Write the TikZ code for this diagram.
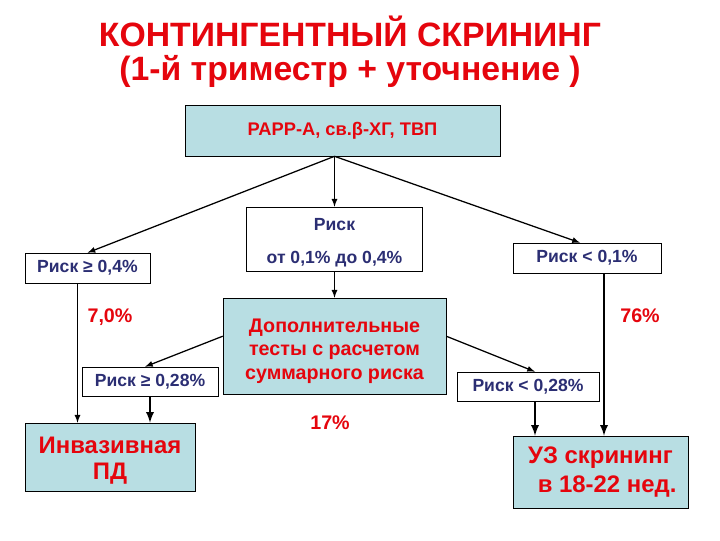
\documentclass[tikz,border=0pt]{standalone}
\usepackage{fontspec}
\setmainfont{Liberation Sans}
\usepackage{tikz}
\usetikzlibrary{positioning,arrows,shapes,calc}
\definecolor{colbox}{rgb}{0.72, 0.87, 0.89}
\definecolor{colred}{rgb}{0.90, 0.02, 0.05}
\definecolor{colnavy}{rgb}{0.17, 0.18, 0.45}

\tikzset{
  bluebox/.style={draw=black, fill=colbox, text=colred, font=\bfseries, align=center, inner sep=0pt},
  riskbox/.style={draw=black, fill=white, text=colnavy, font=\bfseries\fontsize{12.5}{15}\selectfont, inner sep=0pt},
  pct/.style={text=colred, font=\bfseries\fontsize{14}{16}\selectfont},
  arr/.style={->, >=latex, black, line width=0.9pt},
  thickarr/.style={->, >=latex, black, line width=1.6pt}
}

\begin{document}
\begin{tikzpicture}[x=0.025cm, y=-0.025cm]
    \useasboundingbox (0,0) rectangle (720,540);
    % title
    \node[text=colred, font=\bfseries\fontsize{24}{24}\selectfont, align=center] (title) at (350,52)
      {КОНТИНГЕНТНЫЙ СКРИНИНГ\\(1-й триместр + уточнение )};
    % boxes
    \node[bluebox, minimum width=7.875cm, minimum height=1.275cm, font=\bfseries\fontsize{13}{15}\selectfont] (papp) at (342.5,130.5) {PAPP-A, св.β-ХГ, ТВП};
    \node[riskbox, minimum width=4.4cm, minimum height=1.6cm, align=center] (rmid) at (334.5,239) {\rule{0pt}{14pt}Риск\\[9pt]от 0,1\% до 0,4\%};
    \node[riskbox, minimum width=3.125cm, minimum height=0.75cm] (r04) at (87.5,268) {Риск ≥ 0,4\%};
    \node[riskbox, minimum width=3.7cm, minimum height=0.75cm] (r01) at (587,258) {Риск < 0,1\%};
    \node[bluebox, minimum width=5.575cm, minimum height=2.4cm, font=\bfseries\fontsize{14}{16.5}\selectfont] (dop) at (334.5,346)
      {\rule{0pt}{17pt}Дополнительные\\тесты с расчетом\\суммарного риска};
    \node[riskbox, minimum width=3.4cm, minimum height=0.725cm] (r028a) at (150,381.5) {Риск ≥ 0,28\%};
    \node[riskbox, minimum width=3.55cm, minimum height=0.725cm] (r028b) at (528,386.5) {Риск < 0,28\%};
    \node[bluebox, minimum width=4.25cm, minimum height=1.7cm, font=\bfseries\fontsize{17}{19}\selectfont] (inv) at (110,457) {\rule{0pt}{17pt}Инвазивная\\ПД};
    \node[bluebox, minimum width=4.375cm, minimum height=1.8cm, font=\bfseries\fontsize{17}{21}\selectfont] (uz) at (600.5,472) {УЗ скрининг\\\ \ в 18-22 нед.};
    % percentages
    \node[pct] (p70) at (110,317) {7,0\%};
    \node[pct] (p76) at (640,316) {76\%};
    \node[pct] (p17) at (330,423) {17\%};
    % connectors
    \coordinate (top) at (papp.south -| rmid.north);
    \coordinate (r04out) at ($(r04.south)+(-10,0)$);
    \coordinate (r01out) at ($(r01.south)+(17,0)$);
    \coordinate (r028bout) at ($(r028b.south)+(7,0)$);
    \draw[arr] (top) -- (r04.north);
    \draw[arr] (top) -- (rmid.north);
    \draw[arr] (top) -- ($(r01.north)+(-7,0)$);
    \draw[arr] (rmid.south) -- (dop.north);
    \draw[arr] (dop.175) -- ($(r028a.north)+(-5,0)$);
    \draw[arr] (dop.5) -- ($(r028b.north)+(7,0)$);
    \draw[arr] (r04out) -- (r04out |- inv.north);
    \draw[thickarr] (r028a.south) -- (r028a.south |- inv.north);
    \draw[thickarr] (r01out) -- (r01out |- uz.north);
    \draw[thickarr] (r028bout) -- (r028bout |- uz.north);
\end{tikzpicture}
\end{document}
